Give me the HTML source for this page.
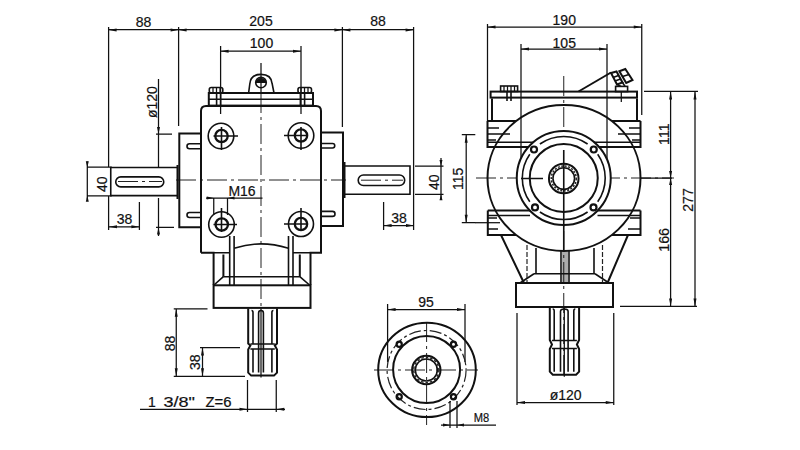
<!DOCTYPE html>
<html><head><meta charset="utf-8">
<style>
html,body{margin:0;padding:0;background:#fff;width:800px;height:450px;overflow:hidden}
svg{display:block}
text{font-family:"Liberation Sans",sans-serif;font-size:14px;fill:#111;stroke:#111;stroke-width:0.2}
.o{stroke:#111;stroke-width:2;fill:none}
.m{stroke:#111;stroke-width:1.6;fill:none}
.t{stroke:#111;stroke-width:1.25;fill:none}
.c{stroke:#222;stroke-width:1;fill:none;stroke-dasharray:20 4 3 4}
.d{stroke:#222;stroke-width:1.2;fill:none;stroke-dasharray:5 2}
.f{fill:#111;stroke:none}
</style></head><body>
<svg width="800" height="450" viewBox="0 0 800 450">
<!-- ===== LEFT VIEW: top dimensions ===== -->
<g id="dimtop">
<path class="t" d="M108.6 29.5H413.6 M108.6 27V167 M108.6 196V230 M178.6 27V126 M342.4 27V127 M413.6 27V230"/>
<path class="f" d="M108.6 30l8 -1.5v3z M178.6 30l-8 -1.5v3z M178.6 30l8 -1.5v3z M342.4 30l-8 -1.5v3z M342.4 30l8 -1.5v3z M413.6 30l-8 -1.5v3z"/>
<text x="143.6" y="27" text-anchor="middle">88</text>
<text x="261" y="26.4" text-anchor="middle">205</text>
<text x="378" y="26" text-anchor="middle">88</text>
<!-- 100 -->
<path class="t" d="M220.6 51.2H301 M220.6 46V114 M301 46V114"/>
<path class="f" d="M220.6 51.2l8 -1.5v3z M301 51.2l-8 -1.5v3z"/>
<text x="261.5" y="48.4" text-anchor="middle">100</text>
</g>

<!-- ===== LEFT VIEW body ===== -->
<g id="leftbody">
<!-- center lines -->
<path class="t" d="M261 63V93"/><path class="c" d="M261 93V308 M176 180H346"/><path class="c" d="M118 181.5H162 M361 180.2H403"/>
<!-- lug -->
<path class="m" d="M248.6 93L249.8 84Q250.5 74.4 261 74.4Q271.5 74.4 272.2 84L274 93"/>
<circle class="m" cx="261" cy="82.5" r="5.3"/>
<path class="f" d="M255.7 83a5.3 5.3 0 0 1 10.6 0z"/>
<!-- nuts -->
<rect class="m" x="209.3" y="87.5" width="13.5" height="5.5" rx="2"/>
<rect class="m" x="298" y="87.5" width="13.5" height="5.5" rx="2"/>
<path class="t" d="M213 87v6M216.5 87v6M220 87v6M301 87v6M304.5 87v6M308 87v6"/>
<!-- top plate -->
<rect class="o" x="208.8" y="93" width="104.2" height="12.6"/>
<path class="m" d="M208.8 99.2H313 M216.6 93V105.6 M220.6 93V105.6 M300.4 93V105.6 M304.6 93V105.6"/>
<!-- main body -->
<path class="o" d="M201 252.8V111Q201 106 206 106H316Q321 106 321 111V252.8H310.5V285 M201 252.8H213.6V285"/>
<!-- wings -->
<path class="o" d="M201 133.5H179.3V227.2H201 M321 132.5H343V226H321"/>
<!-- ribs -->
<path class="m" d="M201 143.75H189.5A2.5 2.5 0 0 0 189.5 148.75H201 M201 212.5H189.5A2.5 2.5 0 0 0 189.5 217.5H201"/>
<path class="m" d="M321 143.5H332.5A2.25 2.25 0 0 1 332.5 148H321 M321 211.4H332.5A2.5 2.5 0 0 1 332.5 216.4H321"/>
<!-- bolt holes -->
<g class="m">
<circle cx="221" cy="136" r="12.8"/><circle cx="301" cy="135.5" r="12.8"/>
<circle cx="221.5" cy="224.5" r="12.8"/><circle cx="301" cy="224" r="12.5"/>
</g>
<g class="o" style="stroke-width:2.3">
<circle cx="221.5" cy="136" r="6.2"/><circle cx="301" cy="135.5" r="6.2"/>
<circle cx="221.75" cy="224.5" r="6.2"/><circle cx="301" cy="224" r="6.2"/>
</g>
<path class="m" d="M213.5 136H238 M221.5 127V150 M284 135.5H307 M301 127V150 M213.5 224.5H237 M221.5 208V232 M284 224H307 M301 208V230"/>
<!-- lower inner lines -->
<path class="m" d="M229.7 236V285 M234.1 236V285 M288.5 236V285 M293 236V285 M213.6 252.8H229.7 M293 252.8H310.5"/>
<path class="m" d="M234.1 248.3Q248 243.9 261 243.9Q274 243.9 288.5 248.3"/>
<path class="o" d="M223.4 254.5V276.7 M299.8 254.5V276.7"/><path class="m" d="M223.4 276.7L214 285 M299.8 276.7L309.5 285 M223.4 276.7H299.8"/>
<!-- base block -->
<rect class="o" x="213.6" y="285.3" width="96.9" height="22.6"/>
<!-- left shaft -->
<path class="m" d="M177 167.5H110.75V195.6H177"/>
<path class="o" d="M177.5 165V199"/>
<rect class="m" x="115.75" y="176.9" width="48" height="10" rx="5"/>
<!-- right shaft -->
<path class="m" d="M344 166H410V194.3H344"/>
<path class="o" d="M344.5 162V198"/>
<rect class="m" x="358.2" y="175" width="46.5" height="10.5" rx="5.2"/>
<!-- splined shaft left view -->
<path class="o" d="M248.2 308.5V343.5L250.39999999999998 345.5L248.2 349.5V372.6L251.2 375.6H274L277 372.6V349.5L274.8 345.5L277 343.5V308.5"/>
<path class="m" d="M253 343.5V312.5Q253 310.5 251.5 310.5 M253 349.5V372.6 M271.9 343.5V312.5Q271.9 310.5 273.4 310.5 M271.9 349.5V372.6 M258.6 372.6V313.0Q258.6 310.5 261.0 310.5Q263.4 310.5 263.4 313.0V372.6 M250.39999999999998 344.0H274.8 M250.39999999999998 349.0H274.8"/>
<path class="t" d="M261.0 308.5V377.6"/>
</g>

<!-- ===== LEFT VIEW dimensions ===== -->
<g id="leftdims">
<!-- phi120 -->
<path class="t" d="M158.5 79V167 M158.5 198V236 M156 134H172 M156 227.4H174"/>
<path class="f" d="M158.5 134l-1.5 -7h3z M158.5 227.4l-1.5 7h3z"/>
<text transform="translate(157,118) rotate(-90)">&#248;120</text>
<!-- 40 left -->
<path class="t" d="M87.3 161.6V199.5 M87 167.2H111.8 M87 195.8H111.8"/>
<path class="f" d="M87.3 167.2l-1.5 -6h3z M87.3 195.8l-1.5 6h3z"/>
<text transform="translate(107,192) rotate(-90)">40</text>
<!-- 38 left -->
<path class="t" d="M109 226.8H139.4 M139.4 202V230"/>
<path class="f" d="M109 226.8l8 -1.5v3z M139.4 226.8l-8 -1.5v3z"/>
<text x="124.6" y="224" text-anchor="middle">38</text>
<!-- M16 -->
<path class="t" d="M206 198H262.5 M213.75 198V215 M227.5 198V215"/>
<path class="f" d="M213.75 198l-7 -1.5v3z M227.5 198l7 -1.5v3z"/>
<text x="242" y="195.5" text-anchor="middle">M16</text>
<!-- 40 right -->
<path class="t" d="M441 158V199.5 M415 166H443.5 M415 194.3H443.5"/>
<path class="f" d="M441 166l-1.5 -6h3z M441 194.3l-1.5 6h3z"/>
<text transform="translate(438.6,190) rotate(-90)">40</text>
<!-- 115 -->
<path class="t" d="M466.2 134.7V222.7 M461.8 134.7H475.3 M461.8 222.7H475.3"/>
<path class="f" d="M466.2 134.7l-1.5 8h3z M466.2 222.7l-1.5 -8h3z"/>
<text transform="translate(463,190) rotate(-90)">115</text>
<!-- 38 right -->
<path class="t" d="M383.6 202V230 M383.6 225.6H414"/>
<path class="f" d="M383.6 225.6l8 -1.5v3z M414 225.6l-8 -1.5v3z"/>
<text x="399" y="222.7" text-anchor="middle">38</text>
<!-- 88 / 38 below -->
<path class="t" d="M176.25 308.75V376.25 M173.75 308.75H207.5 M173.75 376.25H245 M202.5 347.5V376.25 M200 347.5H240"/>
<path class="f" d="M176.25 308.75l-1.5 8h3z M176.25 376.25l-1.5 -8h3z M202.5 347.5l-1.5 8h3z M202.5 376.25l-1.5 -8h3z"/>
<text transform="translate(175,351.25) rotate(-90)">88</text>
<text transform="translate(199.5,370) rotate(-90)">38</text>
<!-- 1 3/8 -->
<path class="t" d="M140 409.25H285 M247.5 380V412 M276.25 380V412"/>
<path class="f" d="M247.5 409.25l-8 -1.5v3z M276.25 409.25l8 -1.5v3z"/>
<g style="font-size:10.8px"><text x="148" y="406.5">1</text><text x="163.5" y="406.5" textLength="31.5" lengthAdjust="spacingAndGlyphs">3/8"</text><text x="205.5" y="406.5" textLength="26" lengthAdjust="spacingAndGlyphs">Z=6</text></g>
</g>

<!-- ===== RIGHT VIEW ===== -->
<g id="rightview">
<!-- dims top -->
<path class="t" d="M487.5 27H641.75 M487.5 24V121 M641.75 24V115 M521 49H607 M521 44V160 M607 44V160"/>
<path class="f" d="M487.5 27l8 -1.5v3z M641.75 27l-8 -1.5v3z M521 49l8 -1.5v3z M607 49l-8 -1.5v3z"/>
<text x="564.25" y="25" text-anchor="middle">190</text>
<text x="564.25" y="47.5" text-anchor="middle">105</text>
<!-- center lines -->
<path class="c" d="M563.75 76V378 M476 178H674"/>
<!-- top plate + box -->
<rect class="o" x="490.6" y="91.6" width="146.4" height="6"/>
<path class="o" d="M492 98.5V121 M637 98.5V121"/>
<path class="m" d="M507 91.5V101 M511 91.5V101"/><path class="t" d="M621.3 91.5V102"/>
<rect class="m" x="500.6" y="86" width="17" height="5.5"/>
<path class="t" d="M504 86v5.5M507.5 86v5.5M511 86v5.5M514.5 86v5.5"/>
<!-- breather -->
<path class="o" d="M578.5 91.5L611 72.5"/>
<rect class="m" x="615.6" y="86.4" width="12" height="5.2"/>
<path class="o" d="M611 73L616.5 71.5L622.5 82.5L617 84.5Z M619.4 71.3L625.3 69L632.5 80L626.2 83Z"/>
<path class="m" d="M613 77.5L618.5 75.5 M615 81L620.5 79 M622.5 76.5L629 74.5 M617 84.5L621 86.4 M622.5 82.5L625 86.4"/>
<!-- upper flange band -->
<path class="o" d="M487.5 121H516 M612 121H640.5 M487.5 121V147H529 M640.5 121V147H598"/>
<path class="m" d="M487.5 128H499 M487.5 134H510 M487.5 140H496 M487.5 142.3H536 M629 128H640.5 M618 134H640.5 M632 140H640.5 M591 142.3H640.5"/>
<!-- lower flange band -->
<path class="o" d="M487.8 210.5H530 M640.5 210.5H597.5 M487.8 210.5V235H516 M640.5 210.5V235H612"/>
<path class="m" d="M487.8 215.5H530 M487.8 218H497 M487.8 229H498 M597.5 215.5H640.5 M630 218H640.5 M628 229H640.5"/><path class="t" d="M475 222.7H500"/>
<!-- big circle -->
<ellipse class="o" cx="564" cy="178" rx="76.5" ry="73"/>
<!-- flange ring -->
<circle class="o" cx="563.75" cy="178" r="47" style="fill:#fff"/>
<circle class="o" cx="563.75" cy="178" r="34"/>
<g class="m">
<path d="M539.9 144.0A41.5 41.5 0 0 1 587.6 144.0"/>
<path d="M597.7 154.2A41.5 41.5 0 0 1 597.7 201.8"/>
<path d="M587.6 212.0A41.5 41.5 0 0 1 539.9 212.0"/>
<path d="M529.8 201.8A41.5 41.5 0 0 1 529.8 154.2"/>
</g>
<circle class="o" cx="563.75" cy="178.5" r="14.8"/>
<circle class="d" cx="563.75" cy="178.5" r="12.5" style="stroke-dasharray:2 1.5;stroke-width:1.5"/>
<circle class="m" cx="563.75" cy="178.5" r="10.8"/>
<g class="o" style="stroke-width:2.2"><circle cx="534" cy="149.5" r="3"/><circle cx="593.75" cy="149.5" r="3"/><circle cx="535" cy="207.4" r="3"/><circle cx="593.5" cy="207.4" r="3"/></g>
<path class="m" d="M521 178.5H543 M563.75 150V250"/>
<!-- taper body -->
<path class="o" d="M501 235L524 283 M628 235L607.5 283"/>
<path class="m" d="M534 273.75H595 M536 248V274 M594 248V274 M534 273.75L520 283 M595 273.75L609 283"/>
<path class="d" d="M527 245V283 M602.5 245V283"/>
<path class="m" d="M561 250.5V283 M569 250.5V283"/><path class="f" d="M562 251h6v32h-6z" style="opacity:.35"/>
<!-- base block -->
<rect class="o" x="516" y="283" width="97" height="24"/>
<!-- spline shaft -->
<path class="o" d="M549.8 307V340L552.0 344.5L549.8 349V371.7L552.8 374.7H576.1L579.1 371.7V349L576.9 344.5L579.1 340V307"/>
<path class="m" d="M554.2 340V311Q554.2 309 552.7 309 M554.2 349V371.7 M573.8 340V311Q573.8 309 575.3 309 M573.8 349V371.7 M560.5 371.7V311.5Q560.5 309 564.3 309Q568.1 309 568.1 311.5V371.7 M552.0 340.5H576.9 M552.0 348.5H576.9"/>
<path class="t" d="M564.3 307V376.7"/>
<!-- phi120 dim -->
<path class="t" d="M517 313V405 M613.75 313V405 M517 402.5H613.75"/>
<path class="f" d="M517 402.5l8 -1.5v3z M613.75 402.5l-8 -1.5v3z"/>
<text x="565.6" y="400" text-anchor="middle">&#248;120</text>
<!-- right side dims -->
<path class="t" d="M644 91.4H698 M620 306.4H697 M670.6 91.4V306.4 M695 91.4V306.4 M640 178H672"/>
<path class="f" d="M670.6 91.4l-1.5 8h3z M670.6 178l-1.5 -7h3z M670.6 178l-1.5 7h3z M670.6 306.4l-1.5 -8h3z M695 91.4l-1.5 8h3z M695 306.4l-1.5 -8h3z"/>
<text transform="translate(669,145) rotate(-90)" textLength="21.7" lengthAdjust="spacingAndGlyphs">111</text>
<text transform="translate(692.5,211.7) rotate(-90)" textLength="23.4" lengthAdjust="spacingAndGlyphs">277</text>
<text transform="translate(669,251.7) rotate(-90)" textLength="23.7" lengthAdjust="spacingAndGlyphs">166</text>
</g>
<!-- ===== BOTTOM FLANGE VIEW ===== -->
<g id="flange">
<path class="t" d="M387.6 309.6H465 M387.6 304V362 M465 304V362"/>
<path class="f" d="M387.6 309.6l8 -1.5v3z M465 309.6l-8 -1.5v3z"/>
<text x="426" y="307" text-anchor="middle">95</text>
<path class="c" d="M374 370H478 M426.6 322V425"/>
<ellipse class="o" cx="427" cy="369.9" rx="48.8" ry="47.2"/>
<circle class="o" cx="426.6" cy="369.5" r="33.5"/>
<circle class="d" cx="426.6" cy="370" r="39.5" style="stroke-dasharray:12 3 3 3"/>
<circle class="o" cx="426.3" cy="370" r="14.2"/>
<circle class="d" cx="426.3" cy="370" r="12.6" style="stroke-dasharray:2.5 2;stroke-width:1.4"/>
<circle class="m" cx="426.3" cy="370" r="11"/>
<g class="o" style="stroke-width:2.2"><circle cx="399.2" cy="344.2" r="2.6"/><circle cx="453.5" cy="344.2" r="2.6"/><circle cx="399.2" cy="396.7" r="2.6"/><circle cx="453.5" cy="396.7" r="2.6"/></g>
<path class="t" d="M441 425H496 M450 401V428 M457 401V428"/>
<path class="f" d="M450 425l-7 -1.5v3z M457 425l7 -1.5v3z"/>
<text x="473.8" y="422" textLength="15.5" lengthAdjust="spacingAndGlyphs" style="font-size:13.5px">M8</text>
</g>
</svg>
</body></html>
